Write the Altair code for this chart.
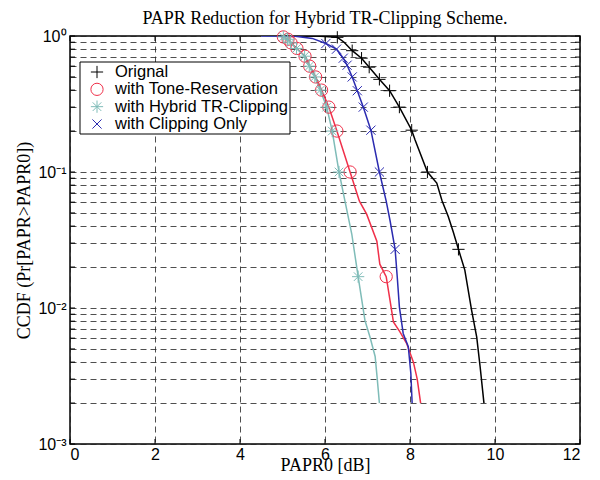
import altair as alt
import pandas as pd

series_names = ["Orignal", "with Tone-Reservation", "with Hybrid TR-Clipping", "with Clipping Only"]
series_colors = ["#000000", "#f0304a", "#7fbcb8", "#2b2bb0"]
series_shapes = [
    "M-1,0H1M0,-1V1",
    "circle",
    "M-1,0H1M0,-1V1M-0.7,-0.7L0.7,0.7M-0.7,0.7L0.7,-0.7",
    "M-0.75,-0.75L0.75,0.75M-0.75,0.75L0.75,-0.75",
]

# ---- line data ----
orig_x = [4.5, 5.8, 6.29, 6.45, 6.64, 6.86, 7.04, 7.28, 7.52, 7.75, 8.04, 8.12, 8.41, 8.63, 8.75, 8.9, 9.02, 9.14, 9.29, 9.45, 9.57, 9.65, 9.74]
orig_y = [1.0, 0.998, 0.978, 0.90, 0.78, 0.687, 0.59, 0.48, 0.396, 0.30, 0.203, 0.172, 0.10, 0.083, 0.062, 0.047, 0.036, 0.027, 0.019, 0.0096, 0.0061, 0.0037, 0.002]

tr_x = [4.5, 4.95, 5.02, 5.13, 5.2, 5.34, 5.53, 5.64, 5.78, 5.92, 6.09, 6.28, 6.59, 6.81, 6.98, 7.22, 7.29, 7.44, 7.53, 7.61, 7.76, 7.92, 8.08, 8.17, 8.25]
tr_y = [1.0, 0.997, 0.985, 0.946, 0.89, 0.81, 0.71, 0.60, 0.50, 0.40, 0.30, 0.20, 0.10, 0.061, 0.049, 0.031, 0.021, 0.017, 0.0114, 0.0079, 0.0067, 0.0055, 0.0040, 0.0030, 0.002]

hy_x = [4.5, 4.95, 5.02, 5.12, 5.19, 5.33, 5.52, 5.63, 5.76, 5.89, 6.04, 6.17, 6.33, 6.47, 6.63, 6.78, 6.94, 7.06, 7.18, 7.23, 7.28]
hy_y = [1.0, 0.997, 0.985, 0.946, 0.89, 0.81, 0.71, 0.60, 0.50, 0.40, 0.30, 0.20, 0.10, 0.061, 0.035, 0.017, 0.0081, 0.0061, 0.0044, 0.0030, 0.002]

cl_x = [4.5, 5.3, 5.7, 6.02, 6.27, 6.43, 6.52, 6.64, 6.76, 6.90, 7.08, 7.28, 7.44, 7.53, 7.65, 7.70, 7.75, 7.84, 7.96, 8.02, 8.05]
cl_y = [1.0, 0.997, 0.96, 0.88, 0.80, 0.687, 0.61, 0.50, 0.396, 0.30, 0.203, 0.10, 0.061, 0.044, 0.027, 0.0169, 0.0102, 0.0065, 0.0052, 0.0033, 0.002]

# ---- marker data ----
orig_mx = [6.29, 6.64, 6.86, 7.04, 7.28, 7.52, 7.75, 8.04, 8.41, 9.14]
orig_my = [0.978, 0.78, 0.687, 0.59, 0.48, 0.396, 0.30, 0.203, 0.10, 0.027]

tr_mx = [5.02, 5.13, 5.2, 5.34, 5.53, 5.64, 5.78, 5.92, 6.09, 6.28, 6.59, 7.44]
tr_my = [0.985, 0.946, 0.89, 0.81, 0.71, 0.60, 0.50, 0.40, 0.30, 0.20, 0.10, 0.017]

hy_mx = [5.02, 5.12, 5.19, 5.33, 5.52, 5.63, 5.76, 5.89, 6.04, 6.17, 6.33, 6.78]
hy_my = [0.985, 0.946, 0.89, 0.81, 0.71, 0.60, 0.50, 0.40, 0.30, 0.20, 0.10, 0.017]

cl_mx = [6.02, 6.27, 6.43, 6.52, 6.64, 6.76, 6.90, 7.08, 7.28, 7.65]
cl_my = [0.88, 0.80, 0.687, 0.61, 0.50, 0.396, 0.30, 0.203, 0.10, 0.027]

xtick_vals = [0, 2, 4, 6, 8, 10, 12]
ytick_vals = [0.001, 0.002, 0.003, 0.004, 0.005, 0.006, 0.007, 0.008, 0.009,
              0.01, 0.02, 0.03, 0.04, 0.05, 0.06, 0.07, 0.08, 0.09,
              0.1, 0.2, 0.3, 0.4, 0.5, 0.6, 0.7, 0.8, 0.9, 1]


def frame(name, xs, ys):
    return pd.DataFrame({"series": name, "x": xs, "y": ys, "order": range(len(xs))})


lines_df = pd.concat([
    frame(series_names[0], orig_x, orig_y),
    frame(series_names[1], tr_x, tr_y),
    frame(series_names[2], hy_x, hy_y),
    frame(series_names[3], cl_x, cl_y),
])
marks_df = pd.concat([
    frame(series_names[0], orig_mx, orig_my),
    frame(series_names[1], tr_mx, tr_my),
    frame(series_names[2], hy_mx, hy_my),
    frame(series_names[3], cl_mx, cl_my),
])
xt_df = pd.DataFrame({"x": xtick_vals})
yt_df = pd.DataFrame({"y": ytick_vals})
legend_df = pd.DataFrame({"series": series_names})

W, H = 510, 408
x_scale = alt.Scale(domain=[0, 12], nice=False, zero=False)
y_scale = alt.Scale(type="log", domain=[0.001, 1], nice=False)
color_scale = alt.Scale(domain=series_names, range=series_colors)
shape_scale = alt.Scale(domain=series_names, range=series_shapes)

label_expr = ("datum.value == 1 ? '10\u2070' : datum.value == 0.1 ? '10\u207b\u00b9' : "
              "datum.value == 0.01 ? '10\u207b\u00b2' : datum.value == 0.001 ? '10\u207b\u00b3' : ''")

x_enc = alt.X("x:Q", scale=x_scale,
              axis=alt.Axis(values=xtick_vals, title="PAPR0 [dB]", labelFontSize=16,
                            titleFontSize=18, labelPadding=2, titlePadding=8,
                            titleBaseline="alphabetic", grid=True))
y_enc = alt.Y("y:Q", scale=y_scale,
              axis=alt.Axis(values=ytick_vals, labelExpr=label_expr, title="CCDF (Pr[PAPR>PAPR0])",
                            labelFontSize=16, titleFontSize=18, labelPadding=4, titlePadding=4,
                            grid=True, labelFlush=False, labelOverlap=False))

lines = alt.Chart(lines_df).mark_line(strokeWidth=1.5, clip=True).encode(
    x=x_enc, y=y_enc,
    color=alt.Color("series:N", scale=color_scale, legend=None),
    order="order:Q",
)

points = alt.Chart(marks_df).mark_point(filled=False, size=150, strokeWidth=1, opacity=1).encode(
    x=alt.X("x:Q", scale=x_scale),
    y=alt.Y("y:Q", scale=y_scale, axis=None),
    color=alt.Color("series:N", scale=color_scale, legend=None),
    shape=alt.Shape("series:N", scale=shape_scale, legend=None),
)

tick_len = 5
ytick_left = alt.Chart(yt_df).mark_rule(color="black", strokeWidth=1).encode(
    y=alt.Y("y:Q", scale=y_scale, axis=None), x=alt.value(0), x2=alt.value(tick_len))
ytick_right = alt.Chart(yt_df).mark_rule(color="black", strokeWidth=1).encode(
    y=alt.Y("y:Q", scale=y_scale, axis=None), x=alt.value(W), x2=alt.value(W - tick_len))
xtick_bottom = alt.Chart(xt_df).mark_rule(color="black", strokeWidth=1).encode(
    x=alt.X("x:Q", scale=x_scale), y=alt.value(H), y2=alt.value(H - tick_len))
xtick_top = alt.Chart(xt_df).mark_rule(color="black", strokeWidth=1).encode(
    x=alt.X("x:Q", scale=x_scale), y=alt.value(0), y2=alt.value(tick_len))

# ---- legend (box, symbols, labels), rows placed by a point scale ----
leg_row_scale = alt.Scale(type="point", domain=series_names, range=[36, 88], padding=0)
legend_box = alt.Chart(pd.DataFrame({"k": [0]})).mark_rect(
    fill="white", stroke="black", strokeWidth=1).encode(
    x=alt.value(10), x2=alt.value(220), y=alt.value(26), y2=alt.value(98))
legend_sym = alt.Chart(legend_df).mark_point(filled=False, size=150, strokeWidth=1, opacity=1).encode(
    x=alt.value(27),
    y=alt.Y("series:N", scale=leg_row_scale, axis=None),
    color=alt.Color("series:N", scale=color_scale, legend=None),
    shape=alt.Shape("series:N", scale=shape_scale, legend=None),
)
legend_txt = alt.Chart(legend_df).mark_text(
    align="left", baseline="middle", font="Liberation Sans", fontSize=16.5, color="black").encode(
    x=alt.value(45),
    y=alt.Y("series:N", scale=leg_row_scale, axis=None),
    text="series:N",
)

chart = alt.layer(
    lines, points, ytick_left, ytick_right, xtick_bottom, xtick_top,
    legend_box, legend_sym, legend_txt,
).resolve_scale(y="independent").properties(
    width=W, height=H,
    title=alt.TitleParams("PAPR Reduction for Hybrid TR-Clipping Scheme.", offset=0),
    autosize=alt.AutoSizeParams(type="none"),
    padding={"left": 62, "top": 28, "right": 10, "bottom": 35},
).configure_view(
    stroke="black", strokeWidth=1.5
).configure_axis(
    gridColor="#222222", gridDash=[6, 4], gridWidth=0.8, gridOpacity=1,
    domain=False, ticks=False, labelColor="black", titleColor="black",
    labelFont="Liberation Sans", titleFont="Liberation Serif", titleFontWeight="normal",
).configure_title(
    font="Liberation Serif", fontSize=18, fontWeight="normal", color="black", anchor="middle",
)

chart.save("out.html", embed_options={"renderer": "svg", "actions": False})
